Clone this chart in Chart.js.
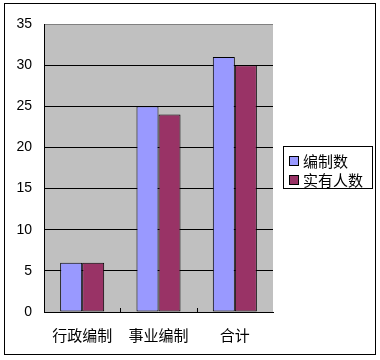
<!DOCTYPE html>
<html>
<head>
<meta charset="utf-8">
<script src="https://cdn.jsdelivr.net/npm/chart.js@4/dist/chart.umd.min.js"></script>
<style>
  html, body { margin: 0; padding: 0; background: #fff; }
  #wrap { width: 380px; height: 360px; }
</style>
</head>
<body>
<div id="wrap"><canvas id="chart" width="380" height="360"></canvas></div>
<script>
// chart data
const categories = ['行政编制', '事业编制', '合计'];
const planned = [6, 25, 31];   // 编制数
const actual = [6, 24, 30];    // 实有人数
const seriesNames = ['编制数', '实有人数'];
const yTicks = [0, 5, 10, 15, 20, 25, 30, 35];

const cjkFont = '"Noto Sans CJK SC", "Noto Sans", sans-serif';

// grey plot area, outer frame, category tick marks and the boxed legend
const excelLook = {
  id: 'excelLook',
  beforeDraw(chart) {
    const ctx = chart.ctx, a = chart.chartArea;
    ctx.save();
    ctx.fillStyle = '#C0C0C0';
    ctx.fillRect(a.left, a.top, a.right - a.left, a.bottom - a.top);
    ctx.restore();
  },
  afterDraw(chart) {
    const ctx = chart.ctx, a = chart.chartArea;
    const x = chart.scales.x;
    ctx.save();
    ctx.strokeStyle = '#000';
    ctx.lineWidth = 1;

    // outer frame
    ctx.strokeRect(4.5, 3.5, 371, 351);

    // tick marks between categories (inside)
    const half = (x.getPixelForValue(1) - x.getPixelForValue(0)) / 2;
    for (let i = 0; i < categories.length - 1; i++) {
      const px = Math.round(x.getPixelForValue(i) + half) + 0.5;
      ctx.beginPath();
      ctx.moveTo(px, a.bottom);
      ctx.lineTo(px, a.bottom - 4);
      ctx.stroke();
    }

    // legend
    const lx = 283, ly = 146, lw = 89, lh = 42;
    ctx.fillStyle = '#fff';
    ctx.fillRect(lx, ly, lw, lh);
    ctx.strokeRect(lx + 0.5, ly + 0.5, lw, lh);
    ctx.font = '15px ' + cjkFont;
    ctx.textBaseline = 'middle';
    chart.data.datasets.forEach(function(ds, i) {
      const sy = ly + 10 + i * 19;
      ctx.fillStyle = ds.backgroundColor;
      ctx.fillRect(289, sy, 9, 9);
      ctx.strokeRect(289.5, sy + 0.5, 9, 9);
      ctx.fillStyle = '#000';
      ctx.fillText(ds.label, 303, sy + 5);
    });
    ctx.restore();
  }
};

new Chart(document.getElementById('chart'), {
  type: 'bar',
  data: {
    labels: categories,
    datasets: [
      { label: seriesNames[0], data: planned, backgroundColor: '#9999FF' },
      { label: seriesNames[1], data: actual, backgroundColor: '#993366' }
    ]
  },
  options: {
    responsive: false,
    animation: false,
    events: [],
    layout: { padding: { left: 4, top: 24, right: 107, bottom: 4 } },
    datasets: {
      bar: {
        borderColor: '#000',
        borderWidth: 1,
        borderSkipped: false,
        categoryPercentage: 0.577,
        barPercentage: 1
      }
    },
    plugins: {
      legend: { display: false },
      tooltip: { enabled: false }
    },
    scales: {
      x: {
        grid: { display: false },
        border: { color: '#000', width: 1 },
        ticks: {
          color: '#000',
          padding: 6,
          maxRotation: 0,
          font: { family: cjkFont, size: 15 }
        },
        afterFit(scale) { scale.height = 44; }
      },
      y: {
        min: 0,
        max: 35,
        afterBuildTicks(scale) { scale.ticks = yTicks.map(v => ({ value: v })); },
        grid: {
          color: ctx => (ctx.tick && ctx.tick.value === 35) ? '#808080' : '#000',
          drawTicks: false
        },
        border: { color: '#000', width: 1 },
        ticks: {
          color: '#000',
          padding: 12,
          font: { family: '"Liberation Sans", Arial, sans-serif', size: 14 }
        },
        afterFit(scale) { scale.width = 40; }
      }
    }
  },
  plugins: [excelLook]
});
</script>
</body>
</html>
